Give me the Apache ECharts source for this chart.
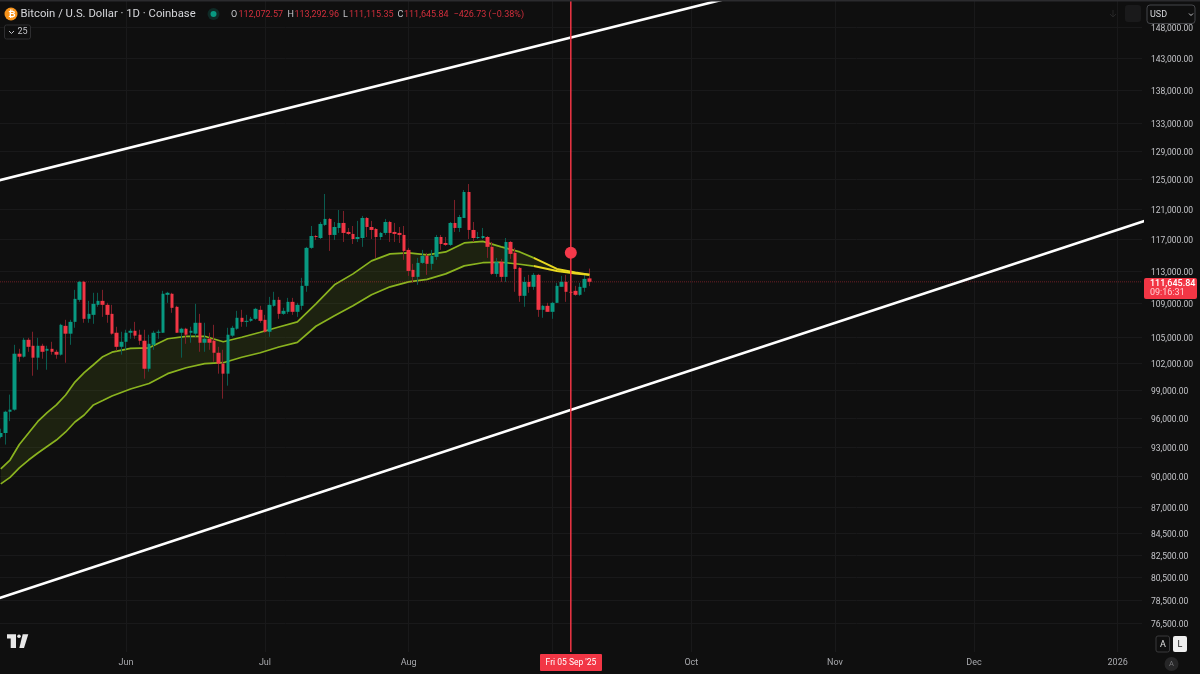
<!DOCTYPE html>
<html>
<head>
    <meta charset="utf-8">
    <title>Bitcoin / U.S. Dollar</title>
    <script src="https://cdn.jsdelivr.net/npm/echarts@6/dist/echarts.min.js"></script>
</head>
<style>
    html, body { margin: 0; padding: 0; background: #0f0f0f; }
    #main { width: 1200px; height: 674px; }
</style>
<body>
<div id="main"></div>
<script>
    // daily candles, 5 May - 9 Sep 2025
    var dates = [
        '2025-05-05','2025-05-06','2025-05-07','2025-05-08','2025-05-09','2025-05-10','2025-05-11','2025-05-12','2025-05-13','2025-05-14',
        '2025-05-15','2025-05-16','2025-05-17','2025-05-18','2025-05-19','2025-05-20','2025-05-21','2025-05-22','2025-05-23','2025-05-24',
        '2025-05-25','2025-05-26','2025-05-27','2025-05-28','2025-05-29','2025-05-30','2025-05-31','2025-06-01','2025-06-02','2025-06-03',
        '2025-06-04','2025-06-05','2025-06-06','2025-06-07','2025-06-08','2025-06-09','2025-06-10','2025-06-11','2025-06-12','2025-06-13',
        '2025-06-14','2025-06-15','2025-06-16','2025-06-17','2025-06-18','2025-06-19','2025-06-20','2025-06-21','2025-06-22','2025-06-23',
        '2025-06-24','2025-06-25','2025-06-26','2025-06-27','2025-06-28','2025-06-29','2025-06-30','2025-07-01','2025-07-02','2025-07-03',
        '2025-07-04','2025-07-05','2025-07-06','2025-07-07','2025-07-08','2025-07-09','2025-07-10','2025-07-11','2025-07-12','2025-07-13',
        '2025-07-14','2025-07-15','2025-07-16','2025-07-17','2025-07-18','2025-07-19','2025-07-20','2025-07-21','2025-07-22','2025-07-23',
        '2025-07-24','2025-07-25','2025-07-26','2025-07-27','2025-07-28','2025-07-29','2025-07-30','2025-07-31','2025-08-01','2025-08-02',
        '2025-08-03','2025-08-04','2025-08-05','2025-08-06','2025-08-07','2025-08-08','2025-08-09','2025-08-10','2025-08-11','2025-08-12',
        '2025-08-13','2025-08-14','2025-08-15','2025-08-16','2025-08-17','2025-08-18','2025-08-19','2025-08-20','2025-08-21','2025-08-22',
        '2025-08-23','2025-08-24','2025-08-25','2025-08-26','2025-08-27','2025-08-28','2025-08-29','2025-08-30','2025-08-31','2025-09-01',
        '2025-09-02','2025-09-03','2025-09-04','2025-09-05','2025-09-06','2025-09-07','2025-09-08','2025-09-09'
    ];
    var opens = [
        94040,94450,96700,96920,103110,102770,104710,104020,102660,104020,
        103450,103670,103330,103000,106340,105420,106810,109440,111640,107170,
        107640,108840,109320,108840,107760,105530,103900,104480,105530,105760,
        105300,104600,101410,104130,105530,105530,110050,110180,108600,105530,
        106000,105530,105420,106700,104370,104830,104600,103220,101980,100860,
        105190,106000,107290,106810,106930,107170,108240,107050,105650,108720,
        109440,107760,108000,109200,108000,108720,111150,115920,117450,117190,
        118900,119690,117590,118500,119160,117980,117720,117060,117190,119820,
        118630,118370,117320,117850,119290,117980,117850,117590,115660,113130,
        112260,114010,114900,113890,114770,117320,116550,116300,119160,118500,
        119820,123310,118240,117190,117190,117320,116050,112630,114140,112260,
        116680,115280,113380,109930,111640,111030,112510,108240,108720,108000,
        109080,111030,111640,110420,110540,110050,110910,112072.57
    ];
    var highs = [
        94900,96810,98550,104130,103670,104940,104940,105650,104940,104250,
        104020,104480,103560,106580,107050,107050,110660,111770,111770,109320,
        110300,110300,110660,109080,108840,106230,105650,105880,106000,106810,
        105880,105880,105300,105760,105880,110540,110420,110300,108720,106110,
        106110,106230,108960,107760,106700,105530,106460,103900,103560,106110,
        106340,108120,108240,107640,107400,108480,108720,107640,109800,110420,
        109800,108480,109680,109680,109080,112140,116050,118760,117590,119290,
        123040,119820,119290,120880,120750,118500,118760,119430,120090,119950,
        119430,118500,117980,119690,119430,119160,118630,118760,115920,113890,
        114640,115660,115280,115660,117590,117590,117320,119290,122230,120220,
        123580,124400,119290,117980,118500,117450,116680,114640,114520,117190,
        116810,115920,113500,112260,112510,112750,112630,108840,109080,109200,
        111520,112380,112510,113000,111150,111520,112750,113292.96
    ];
    var lows = [
        93900,93250,95700,96810,102200,102660,103330,100630,101300,102540,
        101300,103000,102540,102890,102090,104130,106110,109200,106700,106700,
        106580,108600,107400,106700,105300,103450,103000,103560,104830,104830,
        104130,100300,101080,103560,104830,105530,109080,107880,105530,102660,
        104250,104370,105060,103330,103330,103560,102200,100860,98110,99530,
        105060,105880,106230,106230,106810,107050,106700,105530,105060,108600,
        107170,107640,107760,107640,107400,108240,110420,115790,116940,117060,
        118770,115530,116940,117850,116680,117590,116420,116680,116050,117320,
        117060,114640,116940,117590,116680,116680,116550,114390,112380,111520,
        111280,113890,112510,113130,114390,115660,116170,116170,117980,117980,
        119820,117060,116680,117060,117060,114640,112510,112260,111640,111640,
        114520,110420,109200,108600,110300,110660,107400,107290,108000,107170,
        109080,111030,109200,109930,109930,109930,110420,111115.35
    ];
    var closes = [
        94450,96700,96920,103110,102770,104710,103900,102660,104020,103330,
        103670,103330,103000,106460,105420,106810,109560,111640,107170,107760,
        108960,109320,108840,107640,105420,103900,104480,105530,105760,105190,
        104600,101410,104250,105530,105650,110180,110300,108480,105530,106000,
        105300,105760,106700,104370,104830,104370,103220,101980,100860,105300,
        106110,107290,106810,106930,107170,108360,106930,105650,108840,109440,
        107760,108120,109200,108000,108840,111150,115920,117450,117320,119030,
        119690,117590,118630,119160,117850,117720,117060,117320,119820,118630,
        118240,117320,117850,119290,117850,117720,117590,115530,113000,112260,
        114010,114900,113890,114900,117320,116420,116300,119160,118500,119950,
        123310,118240,117190,117320,117450,116050,112630,114140,112260,116680,
        115150,113250,109930,111640,111030,112510,108240,108720,108000,109080,
        111150,111640,110420,110300,110050,111030,112010,111645.84
    ];

    // moving average ribbon, one reading every few days
    var bandDates = [
        '2025-05-05','2025-05-07','2025-05-09','2025-05-11','2025-05-13','2025-05-15','2025-05-17','2025-05-19','2025-05-21','2025-05-23','2025-05-25','2025-05-27','2025-05-29',
        '2025-06-02','2025-06-06','2025-06-10','2025-06-14','2025-06-18','2025-06-22','2025-06-26','2025-06-30','2025-07-04','2025-07-08','2025-07-12','2025-07-16','2025-07-20','2025-07-24','2025-07-28',
        '2025-08-01','2025-08-05','2025-08-09','2025-08-13','2025-08-17','2025-08-21','2025-08-25','2025-08-28','2025-09-02','2025-09-06','2025-09-09'
    ];
    var bandUpper = [
        90770,91670,93260,94450,95670,96610,97430,98510,99930,100970,101860,102770,103290,
        103730,103790,104830,105110,105120,104480,105000,105590,106200,106810,108960,111280,112630,114260,115150,
        115280,115030,115400,116550,116750,116050,115400,114640,113250,112790,112510
    ];
    var bandLower = [
        89280,89930,90870,91670,92390,93050,93720,94560,95610,96350,97430,97900,98390,
        99160,99770,100860,101520,101980,102090,102710,103220,103880,104420,106290,107520,108720,110050,111030,
        111640,111950,112630,113630,114030,114090,113840,113610,113000,112690,112510
    ];
    var yellowFrom = '2025-08-28';

    // drawn channel lines, two ends each
    var topLineDates = ['2025-05-01', '2025-10-16'];
    var topLinePrices = [124340, 154170];
    var lowLineDates = ['2025-05-01', '2026-01-07'];
    var lowLinePrices = [78190, 119450];

    var cursorDate = '2025-09-05';
    var cursorDot = 115280;
    var lastPrice = 111645.84;

    var priceTicks = [148000,143000,138000,133000,129000,125000,121000,117000,113000,109000,105000,102000,99000,96000,93000,90000,87000,84500,82500,80500,78500,76500];
    var monthTicks = ['2025-06-01','2025-07-01','2025-08-01','2025-09-01','2025-10-01','2025-11-01','2025-12-01','2026-01-01'];
    var monthNames = ['Jun','Jul','Aug','','Oct','Nov','Dec','2026'];

    var priceMin = 74130, priceMax = 152490;
    var axisStart = new Date('2025-05-04T20:00:00Z').getTime();
    var axisEnd = new Date('2026-01-06T06:00:00Z').getTime();

    var GREEN = '#089981', RED = '#F23645';
    var GREEN_WICK = '#0a5c50', RED_WICK = '#7d2029';
    var OLIVE = '#8ab31f', YELLOW = '#e8d820';
    var FONT = 'Roboto, "Liberation Sans", sans-serif';

    function ms(d) { return new Date(d + 'T00:00:00Z').getTime(); }

    // [date, open, close, low, high] as the candlestick series wants it
    var wickData = [], bodyData = [];
    for (var i = 0; i < dates.length; i++) {
        var up = closes[i] >= opens[i];
        wickData.push({
            value: [ms(dates[i]), opens[i], closes[i], lows[i], highs[i]],
            itemStyle: {color: up ? GREEN_WICK : RED_WICK, color0: up ? GREEN_WICK : RED_WICK, borderColor: up ? GREEN_WICK : RED_WICK, borderColor0: up ? GREEN_WICK : RED_WICK}
        });
        bodyData.push([ms(dates[i]), opens[i], closes[i], Math.min(opens[i], closes[i]), Math.max(opens[i], closes[i])]);
    }

    function pairs(xs, ys) {
        var out = [];
        for (var k = 0; k < xs.length; k++) out.push([ms(xs[k]), ys[k]]);
        return out;
    }
    var yellowIdx = bandDates.indexOf(yellowFrom);
    var upperLine = pairs(bandDates, bandUpper);
    var lowerLine = pairs(bandDates, bandLower);

    function lineSeries(data, color, width, z, dash) {
        return {type: 'line', data: data, symbol: 'none', silent: true, z: z, clip: true, smooth: false,
            lineStyle: {color: color, width: width, type: dash || 'solid'}};
    }

    // ribbon fill between the two averages
    function renderBand(params, api) {
        if (params.dataIndex !== 0) return null;
        var top = [], bottom = [];
        for (var k = 0; k < bandDates.length; k++) {
            top.push(api.coord([ms(bandDates[k]), bandUpper[k]]));
            bottom.unshift(api.coord([ms(bandDates[k]), bandLower[k]]));
        }
        return {type: 'polygon', shape: {points: top.concat(bottom)}, style: {fill: 'rgba(134,173,28,0.12)'}, silent: true};
    }

    function text(x, y, str, size, color, extra) {
        var style = {text: str, x: x, y: y, fontSize: size, fontFamily: FONT, fill: color, textVerticalAlign: 'middle', verticalAlign: 'middle'};
        for (var key in (extra || {})) style[key] = extra[key];
        return {type: 'text', z: 100, silent: true, style: style};
    }
    function box(x, y, w, h, r, fill, stroke) {
        return {type: 'rect', z: 99, silent: true, shape: {x: x, y: y, width: w, height: h, r: r},
            style: {fill: fill, stroke: stroke || null, lineWidth: 1}};
    }
    function poly(pts, fill) {
        return {type: 'polygon', z: 100, silent: true, shape: {points: pts}, style: {fill: fill}};
    }

    var ohlcRed = '#d12f3c', labelGrey = '#c4c5c9';
    var chrome = [
        box(0, 0, 1200, 1.5, 0, '#2b2b2e'),
        // header
        {type: 'circle', z: 100, silent: true, shape: {cx: 11, cy: 14, r: 6.5}, style: {fill: '#f7931a'}},
        text(8.2, 14.5, '₿', 9, '#fff', {fontWeight: 'bold'}),
        text(20.5, 14.5, 'Bitcoin / U.S. Dollar · 1D · Coinbase', 11.3, '#d6d7db'),
        {type: 'circle', z: 100, silent: true, shape: {cx: 213.5, cy: 14, r: 6}, style: {fill: '#0f2a26'}},
        {type: 'circle', z: 100, silent: true, shape: {cx: 213.5, cy: 14, r: 3}, style: {fill: '#089981'}},
        text(231, 14.5, 'O', 9, labelGrey), text(238.5, 14.5, '112,072.57', 9, ohlcRed),
        text(287.5, 14.5, 'H', 9, labelGrey), text(294.5, 14.5, '113,292.96', 9, ohlcRed),
        text(343, 14.5, 'L', 9, labelGrey), text(349, 14.5, '111,115.35', 9, ohlcRed),
        text(397.5, 14.5, 'C', 9, labelGrey), text(404, 14.5, '111,645.84', 9, ohlcRed),
        text(453.5, 14.5, '−426.73 (−0.38%)', 9, ohlcRed),
        box(4.5, 25, 26, 14, 2, '#0f0f0f', '#2e2e30'),
        {type: 'polyline', z: 100, silent: true, shape: {points: [[9, 31], [11.5, 33.5], [14, 31]]}, style: {stroke: '#c4c5c9', lineWidth: 1, fill: null}},
        text(17.5, 32, '25', 9, labelGrey),
        // top right controls
        {type: 'polyline', z: 100, silent: true, shape: {points: [[1110, 14], [1113, 17], [1116, 14]]}, style: {stroke: '#262627', lineWidth: 1, fill: null}},
        {type: 'polyline', z: 100, silent: true, shape: {points: [[1113, 10], [1113, 17]]}, style: {stroke: '#262627', lineWidth: 1, fill: null}},
        box(1125, 5, 16, 17, 3, '#1a1a1b'),
        box(1147, 5, 48, 18.5, 3, '#0f0f0f', '#45464a'),
        text(1150, 14.5, 'USD', 9, '#d6d7db'),
        {type: 'polyline', z: 100, silent: true, shape: {points: [[1189, 13.5], [1191, 15.5], [1193, 13.5]]}, style: {stroke: '#c4c5c9', lineWidth: 1, fill: null}},
        // price tag
        box(1144, 278, 53, 21, 2, RED),
        text(1150, 283.5, '111,645.84', 9, '#ffffff', {fontWeight: 500}),
        text(1150, 293, '09:16:31', 9, '#ffd0d4'),
        // cursor date
        box(540, 654, 62, 17, 1, RED),
        text(571, 663, 'Fri 05 Sep \'25', 8.5, '#ffffff', {align: 'center', textAlign: 'center'}),
        // logo
        poly([[7, 634.3], [16, 634.3], [16, 648], [10.7, 648], [10.7, 638.5], [7, 638.5]], '#e8e8e8'),
        {type: 'circle', z: 100, silent: true, shape: {cx: 19, cy: 636.2, r: 1.8}, style: {fill: '#e8e8e8'}},
        poly([[22.7, 634.3], [28.3, 634.3], [24, 648], [19.3, 648]], '#e8e8e8'),
        // bottom right buttons
        box(1156, 636, 13.5, 16, 2, '#0f0f0f', '#3a3a3c'),
        text(1163, 644.5, 'A', 9, '#e0e0e0', {align: 'center', textAlign: 'center'}),
        box(1173, 636, 14, 16, 2, '#efefef'),
        text(1180, 644.5, 'L', 9, '#222222', {align: 'center', textAlign: 'center'}),
        {type: 'circle', z: 100, silent: true, shape: {cx: 1171.5, cy: 664, r: 7}, style: {fill: '#262627'}},
        text(1171.5, 664.5, 'A', 7.5, '#77777a', {align: 'center', textAlign: 'center'})
    ];

    var myChart = echarts.init(document.getElementById('main'), null, {renderer: 'canvas'});
    var option = {
        backgroundColor: '#0f0f0f',
        animation: false,
        grid: {left: 0, right: 58, top: 0, bottom: 22, containLabel: false},
        graphic: {elements: chrome},
        xAxis: {
            type: 'value',
            min: axisStart,
            max: axisEnd,
            axisLine: {show: false},
            axisTick: {show: false, customValues: monthTicks.map(ms)},
            splitLine: {show: true, lineStyle: {color: '#19191a', width: 1}},
            axisLabel: {
                customValues: monthTicks.map(ms),
                color: '#a9aaae', fontSize: 9, fontFamily: FONT, margin: 6,
                hideOverlap: false,
                formatter: function (v) { return monthNames[monthTicks.map(ms).indexOf(v)] || ''; }
            }
        },
        yAxis: {
            type: 'log',
            logBase: 10,
            position: 'right',
            min: priceMin,
            max: priceMax,
            axisLine: {show: false},
            axisTick: {show: false, customValues: priceTicks},
            splitLine: {show: true, lineStyle: {color: '#19191a', width: 1}},
            axisLabel: {
                customValues: priceTicks,
                color: labelGrey, fontSize: 8.5, fontFamily: FONT, margin: 9,
                verticalAlign: 'top',
                lineHeight: 3,
                formatter: function (v) {
                    return Number(v).toLocaleString('en-US', {minimumFractionDigits: 2, maximumFractionDigits: 2});
                }
            }
        },
        series: [
            {type: 'custom', renderItem: renderBand, data: [[ms(bandDates[0]), bandUpper[0]]], silent: true, z: 2, clip: true},
            lineSeries(upperLine.slice(0, yellowIdx + 1), OLIVE, 1.7, 3),
            lineSeries(lowerLine.slice(0, yellowIdx + 1), OLIVE, 1.7, 3),
            {type: 'candlestick', data: wickData, barWidth: 1, silent: true, z: 4, clip: true, itemStyle: {borderWidth: 1}},
            {type: 'candlestick', data: bodyData, barWidth: 4, silent: true, z: 5, clip: true,
                itemStyle: {color: GREEN, color0: RED, borderColor: GREEN, borderColor0: RED, borderWidth: 0}},
            lineSeries(upperLine.slice(yellowIdx), YELLOW, 2, 6),
            lineSeries(lowerLine.slice(yellowIdx), YELLOW, 2, 6),
            lineSeries([[axisStart, lastPrice], [axisEnd, lastPrice]], 'rgba(242,54,69,0.4)', 1, 3, 'dotted'),
            lineSeries(pairs(topLineDates, topLinePrices), '#ffffff', 2.6, 7),
            lineSeries(pairs(lowLineDates, lowLinePrices), '#ffffff', 2.6, 7),
            lineSeries([[ms(cursorDate), priceMin], [ms(cursorDate), priceMax]], RED, 1.5, 8),
            {type: 'scatter', data: [[ms(cursorDate), cursorDot]], symbolSize: 12, silent: true, z: 9, itemStyle: {color: '#f5394a', opacity: 1}}
        ]
    };
    myChart.setOption(option);
</script>
</body>
</html>
